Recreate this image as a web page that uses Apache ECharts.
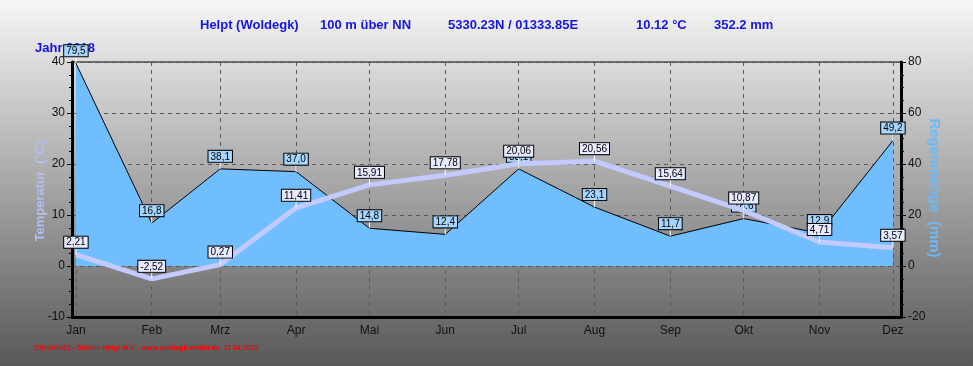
<!DOCTYPE html>
<html><head><meta charset="utf-8">
<script src="https://cdn.jsdelivr.net/npm/echarts@6/dist/echarts.min.js"></script>
<style>html,body{margin:0;padding:0;background:#fff}#c{width:973px;height:366px}</style>
</head><body><div id="c"></div>
<script>
const months = ['Jan','Feb','Mrz','Apr','Mai','Jun','Jul','Aug','Sep','Okt','Nov','Dez'];
const year = 2018;
const temperature = [2.21,-2.52,0.27,11.41,15.91,17.78,20.06,20.56,15.64,10.87,4.71,3.57];
const rainfall = [79.5,16.8,38.1,37.0,14.8,12.4,38.1,23.1,11.7,18.6,12.9,49.2];
const tempRange = [-10,40,10];
const rainRange = [-20,80,20];
const titleParts = ['Helpt (Woldegk)','100 m über NN','5330.23N / 01333.85E','10.12 °C','352.2 mm'];
const yearLabel = 'Jahr 2018';
const tempName = 'Temperatur  (°C)';
const rainName = 'Regenmenge  (mm)';
const footer = '@WsWin32 - Station Helpt M-V - www.woldegk-wetter.de  11.04.2022';

const dayOf = m => (Date.UTC(year, m, 1) - Date.UTC(year, 0, 1)) / 86400000;
const xs = months.map((_, i) => dayOf(i));
const FONT = 'Liberation Sans';
const comma = (v, d) => v.toFixed(d).replace('.', ',');

const chart = echarts.init(document.getElementById('c'), null, {renderer: 'canvas'});
const titleX = [200, 320, 448, 636, 714];

const baseLabel = {
  show: true, position: 'top', distance: 0, fontSize: 10, fontFamily: FONT, color: '#000',
  borderColor: '#000', borderWidth: 1, padding: [1, 2, 0, 2], lineHeight: 10
};

chart.setOption({
  animation: false,
  backgroundColor: {type: 'linear', x: 0, y: 0, x2: 0, y2: 1,
    colorStops: [{offset: 0, color: '#f6f6f6'}, {offset: 1, color: '#585858'}]},
  grid: {left: 72, right: 72, top: 62, bottom: 49, show: true, borderColor: '#000', borderWidth: 1, backgroundColor: 'transparent'},
  xAxis: {
    type: 'value', min: -1.6, max: 337.3,
    axisLine: {show: true, onZero: false, lineStyle: {color: '#000', width: 3}},
    axisTick: {show: false, customValues: xs},
    axisLabel: {customValues: xs, formatter: v => months[xs.indexOf(v)] || '', color: '#111', fontSize: 12, fontFamily: FONT, margin: 8},
    splitLine: {show: true, lineStyle: {type: [4, 4], color: '#5a5a5a', width: 1}}
  },
  yAxis: [{
    type: 'value', min: tempRange[0], max: tempRange[1], interval: tempRange[2],
    axisLine: {show: true, onZero: false, lineStyle: {color: '#000', width: 3}},
    axisTick: {show: true, length: 5, lineStyle: {color: '#000'}},
    minorTick: {show: true, splitNumber: 4, length: 3, lineStyle: {color: '#000'}},
    axisLabel: {color: '#111', fontSize: 12, fontFamily: FONT, margin: 7},
    splitLine: {show: true, lineStyle: {type: [4, 4], color: '#5a5a5a', width: 1}}
  }, {
    type: 'value', min: rainRange[0], max: rainRange[1], interval: rainRange[2],
    axisLine: {show: true, onZero: false, lineStyle: {color: '#000', width: 3}},
    axisTick: {show: true, length: 5, lineStyle: {color: '#000'}},
    minorTick: {show: true, splitNumber: 4, length: 3, lineStyle: {color: '#000'}},
    axisLabel: {color: '#111', fontSize: 12, fontFamily: FONT, margin: 7},
    splitLine: {show: false}
  }],
  series: [{
    name: 'Regen', type: 'line', yAxisIndex: 1, z: 2,
    data: xs.map((x, i) => [x, rainfall[i]]),
    lineStyle: {color: '#000', width: 1},
    areaStyle: {color: '#70bdff', opacity: 1},
    symbol: 'rect', symbolSize: [1, 7], symbolOffset: [0, -3.5], showSymbol: true,
    itemStyle: {color: '#ffffff'},
    label: Object.assign({}, baseLabel, {backgroundColor: '#a6d6ff', formatter: p => comma(p.value[1], 1)})
  }, {
    name: 'Temperatur', type: 'line', yAxisIndex: 0, z: 3,
    data: xs.map((x, i) => [x, temperature[i]]),
    lineStyle: {color: '#c2caff', width: 5},
    symbol: 'rect', symbolSize: [1, 7], symbolOffset: [0, -3.5], showSymbol: true,
    itemStyle: {color: '#ffffff'},
    label: Object.assign({}, baseLabel, {backgroundColor: '#e6ebff', formatter: p => comma(p.value[1], 2)})
  }],
  graphic: [
    ...titleParts.map((t, i) => ({type: 'text', x: titleX[i], y: 25, z: 0, silent: true,
      style: {text: t, fill: '#1414e6', font: 'bold 13px "Liberation Sans"', verticalAlign: 'middle'}})),
    {type: 'text', x: 35, y: 48, z: 0, silent: true,
      style: {text: yearLabel, fill: '#1414e6', font: 'bold 13px "Liberation Sans"', verticalAlign: 'middle'}},
    {type: 'text', x: 40, y: 191, rotation: Math.PI / 2, z: 0, silent: true,
      style: {text: tempName, fill: '#b6bef2', font: 'bold 13px "Liberation Sans"', align: 'center', verticalAlign: 'middle'}},
    {type: 'text', x: 934, y: 188, rotation: -Math.PI / 2, z: 0, silent: true,
      style: {text: rainName, fill: '#6cb9f8', font: 'bold 15px "Liberation Sans"', align: 'center', verticalAlign: 'middle'}},
    {type: 'text', x: 33, y: 348, z: 0, silent: true,
      style: {text: footer, fill: '#ff0000', font: 'bold 7px "Liberation Sans"', verticalAlign: 'middle'}}
  ]
});
</script></body></html>
